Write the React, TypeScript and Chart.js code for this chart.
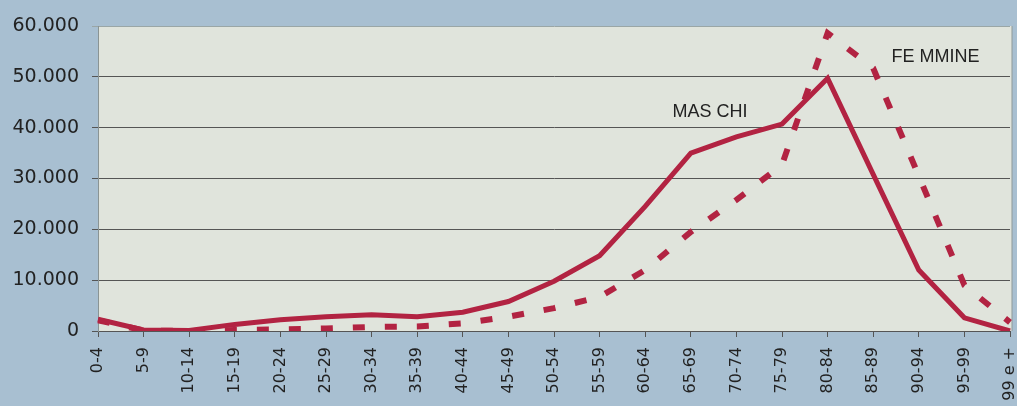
import React, { useEffect, useRef } from "react";
import { Chart, registerables } from "chart.js";

Chart.register(...registerables);

const categories = ["0-4","5-9","10-14","15-19","20-24","25-29","30-34","35-39","40-44","45-49","50-54","55-59","60-64","65-69","70-74","75-79","80-84","85-89","90-94","95-99","99 e +"];
const maschi = [2300,200,100,1300,2200,2800,3200,2800,3700,5800,9800,14800,24500,35000,38200,40700,49700,30800,12000,2600,0];
const femmine = [2100,100,0,200,300,500,800,900,1500,2800,4500,6700,12000,19500,25800,32700,58600,51700,30500,9000,1700];
const yTicks = [0,10000,20000,30000,40000,50000,60000];
const labelMaschi = { text: "MAS CHI", x: 12.6, y: 43000 };
const labelFemmine = { text: "FE MMINE", x: 17.4, y: 53900 };

const LINE = "#b22342";

const bgPlugin = {
  id: "plotBg",
  beforeDraw(chart: any) {
    const { ctx, chartArea } = chart;
    ctx.save();
    ctx.fillStyle = "#e0e4dc";
    ctx.fillRect(chartArea.left, chartArea.top, chartArea.right - chartArea.left + 2, chartArea.bottom - chartArea.top);
    ctx.strokeStyle = "#8e9a9a";
    ctx.lineWidth = 1;
    ctx.beginPath();
    ctx.moveTo(chartArea.right + 2, chartArea.top);
    ctx.lineTo(chartArea.right + 2, chartArea.bottom);
    ctx.stroke();
    ctx.restore();
  },
};

const textPlugin = {
  id: "seriesLabels",
  afterDatasetsDraw(chart: any) {
    const { ctx, scales } = chart;
    ctx.save();
    ctx.fillStyle = "#222";
    ctx.font = "18px 'Liberation Sans', sans-serif";
    ctx.textBaseline = "middle";
    ctx.textAlign = "left";
    for (const l of [labelMaschi, labelFemmine]) {
      ctx.fillText(l.text, scales.x.getPixelForValue(l.x), scales.y.getPixelForValue(l.y));
    }
    ctx.restore();
  },
};

export default function App() {
  const ref = useRef<HTMLCanvasElement | null>(null);
  useEffect(() => {
    if (!ref.current) return;
    const chart = new Chart(ref.current, {
      type: "line",
      data: {
        labels: categories,
        datasets: [
          {
            label: "Maschi",
            data: maschi,
            borderColor: LINE,
            borderWidth: 5,
            pointRadius: 0,
            tension: 0,
            fill: false,
          },
          {
            label: "Femmine",
            data: femmine,
            borderColor: LINE,
            borderWidth: 6,
            borderDash: [12, 20],
            borderCapStyle: "butt",
            pointRadius: 0,
            tension: 0,
            fill: false,
          },
        ],
      },
      options: {
        responsive: false,
        animation: false,
        layout: { padding: { top: 26, right: 7, left: 0, bottom: 0 } },
        plugins: { legend: { display: false }, tooltip: { enabled: false } },
        scales: {
          x: {
            type: "category",
            offset: false,
            grid: { display: true, drawOnChartArea: false, drawTicks: true, tickLength: 6, color: "#555" },
            border: { display: false },
            ticks: {
              maxRotation: 90,
              minRotation: 90,
              autoSkip: false,
              padding: 10,
              color: "#222",
              font: { family: "'DejaVu Sans', sans-serif", size: 16 },
            },
            afterFit(scale: any) { scale.height = 75; scale.paddingLeft = 0; scale.paddingRight = 0; },
          },
          y: {
            min: 0,
            max: 60000,
            afterBuildTicks(scale: any) { scale.ticks = yTicks.map((v) => ({ value: v })); },
            grid: { color: (c: any) => (c.tick && c.tick.value === 60000 ? "#9aa6a6" : "#555"), lineWidth: 1, tickLength: 6 },
            border: { display: true, color: "#8a9494" },
            ticks: {
              padding: 13,
              color: "#222",
              font: { family: "'DejaVu Sans', sans-serif", size: 19 },
              callback: (v: any) => (v === 0 ? "0" : Number(v).toLocaleString("de-DE")),
            },
            afterFit(scale: any) { scale.width = 98; scale.paddingTop = 0; scale.paddingBottom = 0; },
          },
        },
      },
      plugins: [bgPlugin, textPlugin],
    });
    return () => chart.destroy();
  }, []);
  return (
    <div style={{ position: "fixed", left: 0, top: 0, width: 1017, height: 406, background: "#a8bfd1" }}>
      <canvas ref={ref} width={1017} height={406} style={{ display: "block" }} />
    </div>
  );
}
